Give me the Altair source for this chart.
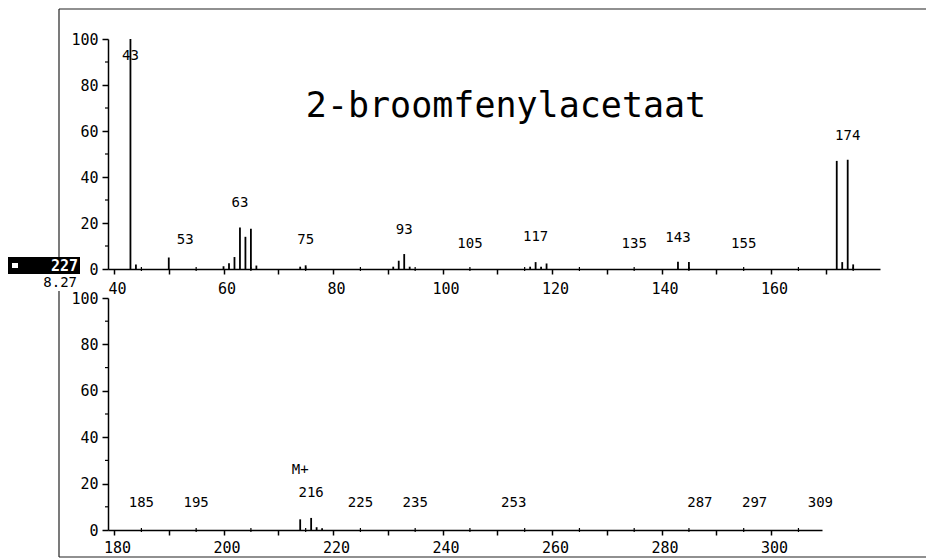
import altair as alt
import pandas as pd

# ---------------- data ----------------
top_mz = [43, 44, 50, 60, 61, 62, 63, 64, 65, 66, 74, 75, 91, 92, 93, 94,
          116, 117, 118, 119, 143, 145, 172, 173, 174, 175]
top_rel = [100, 2, 5, 1.2, 2.5, 5.2, 18, 14, 17.5, 1.5, 1, 1.6, 1, 3.6, 6.5, 1,
           1, 3, 1, 2.4, 3.2, 3, 47, 3, 47.5, 2]

bot_mz = [214, 216, 217, 218]
bot_rel = [4.6, 5.2, 1.2, 0.8]

top_label_text = ["43", "53", "63", "75", "93", "105", "117", "135", "143", "155", "174"]
top_label_mz = [43, 53, 63, 75, 93, 105, 117, 135, 143, 155, 174]
top_label_y = [92.5, 12.5, 28.5, 12.8, 17, 11, 14, 11, 13.5, 11, 58]

bot_label_text = ["185", "195", "M+", "216", "225", "235", "253", "287", "297", "309"]
bot_label_mz = [185, 195, 214, 216, 225, 235, 253, 287, 297, 309]
bot_label_y = [11.5, 11.5, 26, 16, 11.5, 11.5, 11.5, 11.5, 11.5, 11.5]

y_ticks = [0, 20, 40, 60, 80, 100]
y_minor = [10, 30, 50, 70, 90]
top_x_ticks = [40, 50, 60, 70, 80, 90, 100, 110, 120, 130, 140, 150, 160, 170, 180]
top_x_minor = [45, 55, 65, 75, 85, 95, 105, 115, 125, 135, 145, 155, 165, 175]
bot_x_ticks = [180, 190, 200, 210, 220, 230, 240, 250, 260, 270, 280, 290, 300]
bot_x_minor = [185, 195, 205, 215, 225, 235, 245, 255, 265, 275, 285, 295, 305]

title_text = "2-broomfenylacetaat"
scan_no = "227"
scan_time = "8.27"

FONT = "DejaVu Sans Mono"
TW, TH = 772, 230
BW, BH = 714, 232

top_peaks = pd.DataFrame({"mz": top_mz, "rel": top_rel})
bot_peaks = pd.DataFrame({"mz": bot_mz, "rel": bot_rel})
top_labels = pd.DataFrame({"mz": top_label_mz, "rel": top_label_y, "label": top_label_text})
bot_labels = pd.DataFrame({"mz": bot_label_mz, "rel": bot_label_y, "label": bot_label_text})
one = pd.DataFrame({"k": [0]})

ys = alt.Scale(domain=[0, 100], nice=False, zero=False)


def xaxis(values, pad):
    return alt.Axis(values=values, labelExpr="datum.value % 20 == 0 ? datum.label : ''",
                    title=None, grid=False, tickSize=5, labelPadding=pad, labelFlush=False,
                    labelOffset=3)


yaxis = alt.Axis(values=y_ticks, title=None, grid=False, tickSize=6, labelPadding=4)


def panel(peaks, labels, domain, ticks, minor, W, H, pad):
    xs = alt.Scale(domain=domain, nice=False, zero=False)
    X = alt.X("mz:Q", scale=xs, axis=xaxis(ticks, pad))
    Y = alt.Y("rel:Q", scale=ys, axis=yaxis)
    bars = alt.Chart(peaks).mark_rule(color="black", strokeWidth=1.8).encode(
        x=X, y=Y, y2=alt.datum(0))
    txt = alt.Chart(labels).mark_text(font=FONT, fontSize=14, color="black",
                                      baseline="middle").encode(x=X, y=Y, text="label:N")
    xminor = alt.Chart(pd.DataFrame({"mz": minor})).mark_rule(
        color="black", strokeWidth=1.2).encode(x=X, y=alt.value(H - 2), y2=alt.value(H + 2))
    yminor = alt.Chart(pd.DataFrame({"rel": y_minor})).mark_rule(
        color="black", strokeWidth=1.2).encode(y=Y, x=alt.value(-3), x2=alt.value(0))
    return [bars, txt, xminor, yminor]


frame = dict(color="#222222", strokeWidth=1.2)

top_layers = panel(top_peaks, top_labels, [38.9, 179.9], top_x_ticks, top_x_minor, TW, TH, 7)
top_layers += [
    alt.Chart(one).mark_text(text=title_text, font=FONT, fontSize=35, color="black",
                             baseline="middle", align="center").encode(
        x=alt.value(398), y=alt.value(67)),
    alt.Chart(one).mark_rule(**frame).encode(x=alt.value(-49), x2=alt.value(818), y=alt.value(-30)),
    alt.Chart(one).mark_rule(**frame).encode(x=alt.value(-49), y=alt.value(-30), y2=alt.value(219)),
    alt.Chart(one).mark_rect(color="black").encode(
        x=alt.value(-100), x2=alt.value(-28), y=alt.value(218), y2=alt.value(235)),
    alt.Chart(one).mark_rect(color="white").encode(
        x=alt.value(-96), x2=alt.value(-90), y=alt.value(224), y2=alt.value(229)),
    alt.Chart(one).mark_text(text=scan_no, font=FONT, fontSize=15, fontWeight="bold",
                             color="white", align="right", baseline="middle").encode(
        x=alt.value(-30), y=alt.value(227)),
    alt.Chart(one).mark_text(text=scan_time, font=FONT, fontSize=14, color="black",
                             align="right", baseline="middle").encode(
        x=alt.value(-31), y=alt.value(244)),
]
top = alt.layer(*top_layers).properties(width=TW, height=TH)

bot_layers = panel(bot_peaks, bot_labels, [178.9, 309.3], bot_x_ticks, bot_x_minor, BW, BH, 5)
bot_layers += [
    alt.Chart(one).mark_rule(**frame).encode(x=alt.value(-49), y=alt.value(-7), y2=alt.value(259)),
    alt.Chart(one).mark_rule(**frame).encode(x=alt.value(-49), x2=alt.value(818), y=alt.value(259)),
]
bottom = alt.layer(*bot_layers).properties(width=BW, height=BH)

chart = (
    alt.vconcat(top, bottom, spacing=29, bounds="flush")
    .resolve_scale(x="independent", y="independent")
    .properties(padding=0, background="white")
    .configure_view(stroke=None)
    .configure_axis(labelFont=FONT, labelFontSize=15, labelColor="black",
                    domainColor="black", domainWidth=1.5, tickColor="black", tickWidth=1.5)
)

chart.save("out.html", embed_options={"renderer": "svg", "actions": False})
